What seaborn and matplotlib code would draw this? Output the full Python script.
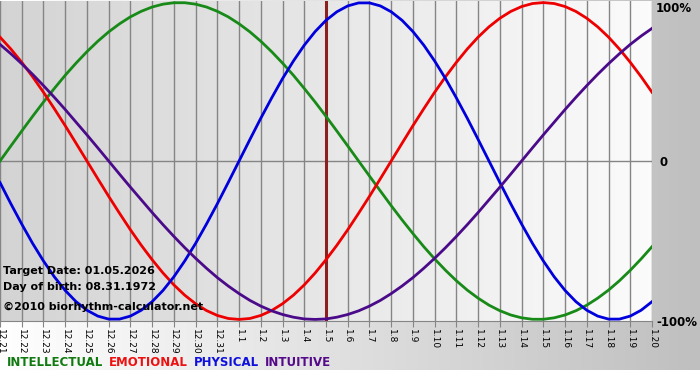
import numpy as np
import pandas as pd
import matplotlib
matplotlib.use("Agg")
import matplotlib.pyplot as plt
import seaborn as sns

tick_labels = ["12.21", "12.22", "12.23", "12.24", "12.25", "12.26", "12.27", "12.28",
               "12.29", "12.30", "12.31", "1.1", "1.2", "1.3", "1.4", "1.5", "1.6",
               "1.7", "1.8", "1.9", "1.10", "1.11", "1.12", "1.13", "1.14", "1.15",
               "1.16", "1.17", "1.18", "1.19", "1.20"]
samples_per_day = 2
intellectual = [0.000, 0.095, 0.189, 0.282, 0.372, 0.458, 0.541, 0.618, 0.690, 0.756,
                0.815, 0.866, 0.910, 0.945, 0.972, 0.990, 0.999, 0.999, 0.990, 0.972,
                0.945, 0.910, 0.866, 0.815, 0.756, 0.690, 0.618, 0.541, 0.458, 0.372,
                0.282, 0.189, 0.095, 0.000, -0.095, -0.189, -0.282, -0.372, -0.458,
                -0.541, -0.618, -0.690, -0.756, -0.815, -0.866, -0.910, -0.945, -0.972,
                -0.990, -0.999, -0.999, -0.990, -0.972, -0.945, -0.910, -0.866, -0.815,
                -0.756, -0.690, -0.618, -0.541]
emotional = [0.782, 0.707, 0.623, 0.532, 0.434, 0.330, 0.223, 0.112, 0.000, -0.112,
             -0.223, -0.330, -0.434, -0.532, -0.623, -0.707, -0.782, -0.847, -0.901,
             -0.944, -0.975, -0.994, -1.000, -0.994, -0.975, -0.944, -0.901, -0.847,
             -0.782, -0.707, -0.623, -0.532, -0.434, -0.330, -0.223, -0.112, 0.000,
             0.112, 0.223, 0.330, 0.434, 0.532, 0.623, 0.707, 0.782, 0.847, 0.901,
             0.944, 0.975, 0.994, 1.000, 0.994, 0.975, 0.944, 0.901, 0.847, 0.782,
             0.707, 0.623, 0.532, 0.434]
physical = [-0.136, -0.270, -0.398, -0.520, -0.631, -0.731, -0.817, -0.888, -0.942,
            -0.979, -0.998, -0.998, -0.979, -0.942, -0.888, -0.817, -0.731, -0.631,
            -0.520, -0.398, -0.270, -0.136, 0.000, 0.136, 0.270, 0.398, 0.520, 0.631,
            0.731, 0.817, 0.888, 0.942, 0.979, 0.998, 0.998, 0.979, 0.942, 0.888,
            0.817, 0.731, 0.631, 0.520, 0.398, 0.270, 0.136, 0.000, -0.136, -0.270,
            -0.398, -0.520, -0.631, -0.731, -0.817, -0.888, -0.942, -0.979, -0.998,
            -0.998, -0.979, -0.942, -0.888]
intuitive = [0.736, 0.677, 0.614, 0.547, 0.476, 0.402, 0.325, 0.245, 0.165, 0.083,
             0.000, -0.083, -0.165, -0.245, -0.325, -0.402, -0.476, -0.547, -0.614,
             -0.677, -0.736, -0.789, -0.837, -0.880, -0.916, -0.946, -0.969, -0.986,
             -0.997, -1.000, -0.997, -0.986, -0.969, -0.946, -0.916, -0.880, -0.837,
             -0.789, -0.736, -0.677, -0.614, -0.547, -0.476, -0.402, -0.325, -0.245,
             -0.165, -0.083, 0.000, 0.083, 0.165, 0.245, 0.325, 0.402, 0.476, 0.547,
             0.614, 0.677, 0.736, 0.789, 0.837]
series_names = ["INTELLECTUAL", "EMOTIONAL", "PHYSICAL", "INTUITIVE"]
target_label = "1.5"
info_lines = ["Target Date: 01.05.2026", "Day of birth: 08.31.1972"]
credit = "\u00a92010 biorhythm-calculator.net"

colors = {"INTELLECTUAL": "#178a17", "EMOTIONAL": "#ee0000",
          "PHYSICAL": "#0000dd", "INTUITIVE": "#4a0a8a"}
legend_colors = {"INTELLECTUAL": "#107a10", "EMOTIONAL": "#ee1111",
                 "PHYSICAL": "#1010dd", "INTUITIVE": "#550a8a"}

days = np.arange(len(tick_labels))
frames = []
for name, vals in zip(series_names, [intellectual, emotional, physical, intuitive]):
    frames.append(pd.DataFrame({"day": np.arange(len(vals)) / samples_per_day,
                                "value": vals, "cycle": name}))
df = pd.concat(frames, ignore_index=True)

W, H = 700, 380
fig = plt.figure(figsize=(W / 100, H / 100), dpi=100)
fig.patch.set_facecolor("white")

# background gradient (figure level)
bg = fig.add_axes([0, 0, 1, 1], zorder=-10)
grad = np.linspace(1.0, 0.75, 256)
img = np.ones((380, 256, 3))
img[:370, :, :] = grad[None, :, None]
bg.imshow(img, aspect="auto", extent=[0, 1, 0, 1], origin="upper")
bg.set_axis_off()

# plot area
px0, px1, py0, py1 = 0, 652, 1, 321
ax = fig.add_axes([px0 / W, 1 - py1 / H, (px1 - px0) / W, (py1 - py0) / H])
ax.set_xlim(0, len(days) - 1)
ax.set_ylim(-1.01, 1.01)
g2 = np.linspace(0.83, 0.985, 256)
ax.imshow(np.repeat(g2[None, :, None], 3, axis=2), aspect="auto",
          extent=[0, len(days) - 1, -1.01, 1.01], zorder=0)

for d in days:
    ax.axvline(d, color="#858585", linewidth=1, zorder=1)
ax.axhline(0, color="#858585", linewidth=1, zorder=1)
ax.axvline(tick_labels.index(target_label), color="#8a2020", linewidth=2.2, zorder=3)

sns.lineplot(data=df, x="day", y="value", hue="cycle", palette=colors,
             linewidth=2, ax=ax, legend=False, zorder=5, sort=False,
             estimator=None)

ax.set_xticks(days)
ax.set_xticklabels(tick_labels, rotation=-90, fontsize=6.5)
ax.tick_params(axis="x", length=4, color="#858585", pad=2)
ax.set_yticks([])
ax.set_xlabel("")
ax.set_ylabel("")
for s in ["top", "right", "left"]:
    ax.spines[s].set_visible(False)
ax.spines["bottom"].set_color("#858585")

# right-hand labels
fw = dict(fontweight="bold", fontsize=8.5, color="black")
fig.text(656 / W, 1 - 8 / H, "100%", va="center", ha="left", **fw)
fig.text(660 / W, 1 - 162 / H, "0", va="center", ha="left", **fw)
fig.text(656 / W, 1 - 322 / H, "-100%", va="center", ha="left", **fw)

# info text
fs_info = 8.0
fig.text(3 / W, 1 - 271 / H, info_lines[0], va="center", ha="left",
         fontweight="bold", fontsize=fs_info)
fig.text(3 / W, 1 - 287 / H, info_lines[1], va="center", ha="left",
         fontweight="bold", fontsize=fs_info)
fig.text(3 / W, 1 - 307 / H, credit, va="center", ha="left",
         fontweight="bold", fontsize=fs_info)

# legend words
fig.canvas.draw()
r = fig.canvas.get_renderer()
x = 7
for name in series_names:
    t = fig.text(x / W, 1 - 362 / H, name, va="center", ha="left",
                 fontweight="bold", fontsize=8.5, color=legend_colors[name])
    bb = t.get_window_extent(renderer=r)
    x = bb.x1 + 6

fig.savefig("out.png", dpi=100)
